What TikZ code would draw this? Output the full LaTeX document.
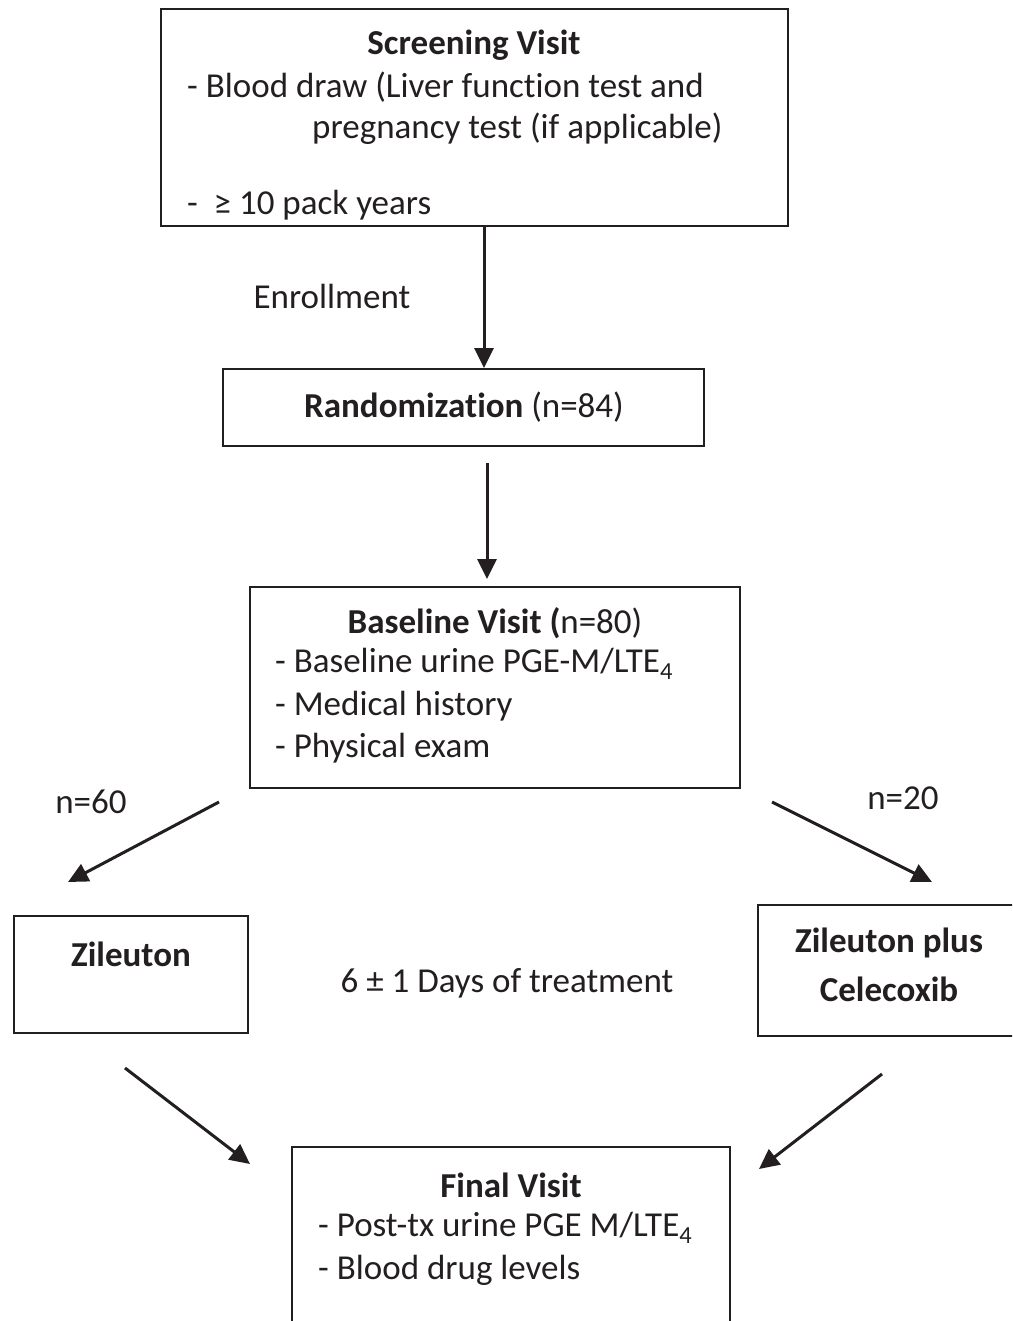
\documentclass[tikz,border=0pt]{standalone}
\usepackage{fontspec}
\setmainfont{Carlito}[Ligatures=NoCommon]
\usetikzlibrary{arrows.meta}
\definecolor{ink}{HTML}{231F20}
\begin{document}
\begin{tikzpicture}[x=1pt,y=-1pt,
  box/.style={draw=ink,line width=2.6pt,inner sep=0pt},
  txt/.style={inner sep=0pt,text=ink,font=\fontsize{35}{42}\selectfont},
  btxt/.style={txt,font=\fontsize{35}{42}\selectfont\bfseries},
  arr/.style={draw=ink,line width=3pt,-{Triangle[length=20pt,width=19pt]}}]
\useasboundingbox (0,0) rectangle (1012,1321);
\clip (0,0) rectangle (1012,1321);
\fill[white] (0,0) rectangle (1012,1321);
% boxes
\draw[box] (161,9) rectangle (788,226);
\coordinate (screenS) at (484,226);
\draw[box] (223,369) rectangle (704,446);
\coordinate (randN) at (484,368);
\coordinate (randS) at (487,463);
\draw[box] (250,587) rectangle (740,788);
\coordinate (baseN) at (487,579);
\draw[box] (14,916) rectangle (248,1033);
\draw[box] (758,905) rectangle (1030,1036);
\draw[box] (292,1147) rectangle (730,1340);
% texts
\node[btxt] (t1) at (474,45) {Screening Visit};
\node[txt,anchor=west] (t2) at (187,87) {- Blood draw (Liver function test and};
\node[txt,anchor=west] (t3) at (312,129) {pregnancy test (if applicable)};
\node[txt,anchor=west] (t4) at (187,205) {-\ \ ≥ 10 pack years};
\node[txt] (enr) at (332,296) {Enrollment};
\node[txt] (rand) at (464,407) {\textbf{Randomization} (n=84)};
\node[txt] (b1) at (495,623) {\textbf{Baseline Visit (}n=80)};
\node[txt,anchor=west] (b2) at (275,664) {- Baseline urine PGE-M/LTE\textsubscript{4}};
\node[txt,anchor=west] (b3) at (275,706) {- Medical history};
\node[txt,anchor=west] (b4) at (275,748) {- Physical exam};
\node[txt] (n60) at (91,802) {n=60};
\node[txt] (n20) at (903,798) {n=20};
\node[btxt] (zil) at (131,954) {Zileuton};
\node[txt] (days) at (507,983) {6 ± 1 Days of treatment};
\node[btxt] (zc1) at (889,943) {Zileuton plus};
\node[btxt] (zc2) at (889,989) {Celecoxib};
\node[btxt] (f1) at (511,1185) {Final Visit};
\node[txt,anchor=west] (f2) at (318,1228) {- Post-tx urine PGE M/LTE\textsubscript{4}};
\node[txt,anchor=west] (f3) at (318,1270) {- Blood drug levels};
% connector endpoints
\coordinate (a3s) at (219,802);
\coordinate (a3e) at (68,882);
\coordinate (a4s) at (772,802);
\coordinate (a4e) at (932,882);
\coordinate (a5s) at (125,1068);
\coordinate (a5e) at (250,1164);
\coordinate (a6s) at (882,1074);
\coordinate (a6e) at (759,1169);
% arrows
\draw[arr] (screenS) -- (randN);
\draw[arr] (randS) -- (baseN);
\draw[arr] (a3s) -- (a3e);
\draw[arr] (a4s) -- (a4e);
\draw[arr] (a5s) -- (a5e);
\draw[arr] (a6s) -- (a6e);
\end{tikzpicture}
\end{document}
